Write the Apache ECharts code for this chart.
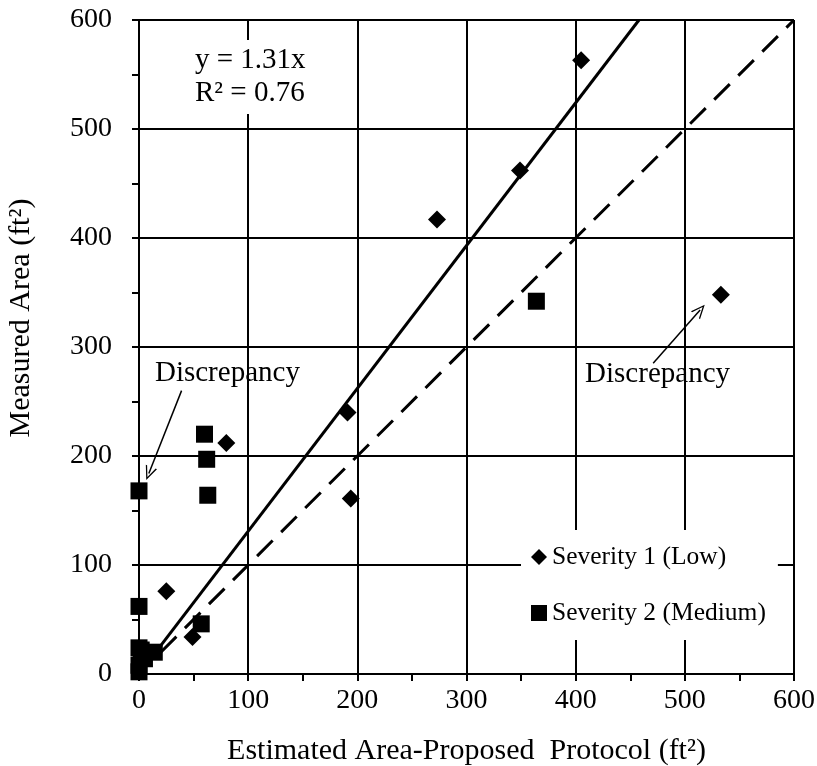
<!DOCTYPE html>
<html><head><meta charset="utf-8">
<script src="https://cdn.jsdelivr.net/npm/echarts@6/dist/echarts.min.js"></script>
<style>html,body{margin:0;padding:0;background:#fff}#c{width:817px;height:766px}</style>
</head><body><div id="c"></div>
<script>
const xTicks = [0, 100, 200, 300, 400, 500, 600];
const yTicks = [0, 100, 200, 300, 400, 500, 600];
const severity1 = [[405,563],[349,462],[273,417],[533,348],[191,240],[194,161],[80,212],[25,76],[49,34]];
const severity2 = [[364,342],[60,220],[62,197],[63,164],[0,168],[0,62],[57,46],[14,20],[0,24],[2,22],[5,14],[0,8],[0,2]];
const trendSlope = 1.31;
const trendX = [15, 458];
const unityX = [20, 600];
const annotations = [
  {text: 'Discrepancy', at: [81, 276], from: [39, 260], to: [9, 184]},
  {text: 'Discrepancy', at: [475, 275], from: [471, 285], to: [514, 334]}
];
const FONT = "'Liberation Serif','Times New Roman',serif";
const FS_TICK = 28;
const FS_TITLE = 30;
const FS_NOTE = 29;
const FS_LEG = 25.5;

const chart = echarts.init(document.getElementById('c'));
const axisCommon = {
  type: 'value', interval: 100,
  axisLine: {show: true, onZero: false, lineStyle: {color: '#000', width: 2}},
  axisTick: {show: true, length: 7, lineStyle: {color: '#000', width: 2}},
  minorTick: {show: true, splitNumber: 2, length: 7, lineStyle: {color: '#000', width: 2}},
  splitLine: {show: true, lineStyle: {color: '#000', width: 2}},
  axisLabel: {color: '#000', fontFamily: FONT, fontSize: FS_TICK}
};
const arrowSym = 'path://M0,0 L6,14 L4.6,14 L0,3.2 L-4.6,14 L-6,14 Z';
chart.setOption({
  animation: false,
  backgroundColor: '#fff',
  grid: {left: 139, right: 23, top: 20, bottom: 92, containLabel: false, outerBoundsMode: 'none'},
  xAxis: Object.assign({}, axisCommon, {
    min: xTicks[0], max: xTicks[xTicks.length-1],
    axisLabel: Object.assign({}, axisCommon.axisLabel, {margin: 13}),
    name: 'Estimated Area-Proposed  Protocol (ft²)', nameLocation: 'middle', nameGap: 62,
    nameTextStyle: {color: '#000', fontFamily: FONT, fontSize: FS_TITLE}
  }),
  yAxis: Object.assign({}, axisCommon, {
    min: yTicks[0], max: yTicks[yTicks.length-1],
    axisLabel: Object.assign({}, axisCommon.axisLabel, {margin: 27}),
    name: 'Measured Area (ft²)', nameLocation: 'middle', nameGap: 103,
    nameTextStyle: {color: '#000', fontFamily: FONT, fontSize: FS_TITLE, padding: [0, 0, 0, 58]}
  }),
  legend: {
    orient: 'vertical', left: 521, top: 530, backgroundColor: '#fff',
    padding: [14, 12, 14, 10], itemGap: 30, itemWidth: 16, itemHeight: 16,
    textStyle: {color: '#000', fontFamily: FONT, fontSize: FS_LEG},
    data: [{name: 'Severity 1 (Low)', icon: 'diamond'}, {name: 'Severity 2 (Medium)', icon: 'rect'}]
  },
  graphic: [{
    type: 'text', left: 189, top: 40, z: 10,
    style: {text: 'y = 1.31x\nR² = 0.76', fill: '#000', font: FS_NOTE + 'px ' + FONT, lineHeight: 33,
      backgroundColor: '#fff', padding: [4, 6, 4, 6]}
  }],
  series: [
    {name: '1:1', type: 'line', data: unityX.map(x => [x, x]), symbol: 'none', silent: true,
      lineStyle: {color: '#000', width: 3, type: [22, 12]}, z: 3},
    {name: 'trend', type: 'line', data: trendX.map(x => [x, trendSlope * x]), symbol: 'none', silent: true,
      lineStyle: {color: '#000', width: 3}, z: 3},
    {name: 'Severity 1 (Low)', type: 'scatter', data: severity1, symbol: 'diamond', symbolSize: 18,
      itemStyle: {color: '#000', opacity: 1}, z: 4},
    {name: 'Severity 2 (Medium)', type: 'scatter', data: severity2, symbol: 'rect', symbolSize: 17,
      itemStyle: {color: '#000', opacity: 1}, z: 4,
      markPoint: {symbol: 'circle', symbolSize: 0, silent: true,
        label: {show: true, position: 'inside', color: '#000', fontFamily: FONT, fontSize: FS_NOTE, formatter: p => p.name},
        data: annotations.map(a => ({name: a.text, coord: a.at}))},
      markLine: {silent: true, symbol: ['none', arrowSym], symbolSize: [12, 14], label: {show: false},
        lineStyle: {color: '#000', width: 1.5, type: 'solid'},
        data: annotations.map(a => [{coord: a.from}, {coord: a.to}])}
    }
  ]
});
</script></body></html>
